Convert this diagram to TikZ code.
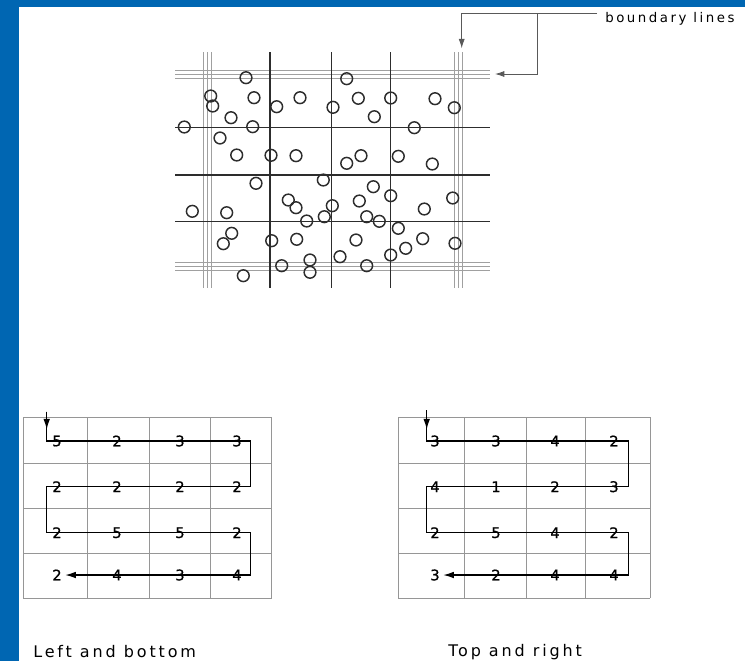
\documentclass[tikz,border=0pt]{standalone}
\usepackage{fontspec}
\setmainfont{DejaVu Sans}
\newfontfamily\spacedfont[LetterSpace=18]{DejaVu Sans}
\newfontfamily\widefont[LetterSpace=19]{DejaVu Sans}
\newfontfamily\digitfont[FakeBold=0.8]{DejaVu Sans}
\usetikzlibrary{arrows.meta, positioning, calc}
\definecolor{frameblue}{RGB}{0,102,178}
\definecolor{inkgray}{RGB}{45,45,45}
\definecolor{gridgray}{RGB}{150,150,150}
\definecolor{edgegray}{RGB}{160,160,160}

\begin{document}
\begin{tikzpicture}[x=0.75pt, y=-0.75pt,
  bline/.style={edgegray, line width=0.55pt},
  gline/.style={inkgray, line width=0.8pt},
  cellline/.style={gridgray, line width=0.6pt},
  particle/.style={inkgray, line width=1.1pt},
  route/.style={black, line width=0.9pt},
  tip/.style={-{Latex[length=8pt,width=5pt]}},
  leader/.style={gray!70!black, line width=0.6pt, -{Latex[length=7pt,width=4.5pt]}},
  count/.style={font=\digitfont\fontsize{11}{11}\selectfont, inner sep=2.5pt},
  caption/.style={font=\spacedfont\fontsize{12}{12}\selectfont, anchor=west, inner sep=0pt}]
  \useasboundingbox (0,0) rectangle (745,661);
  \fill[white] (0,0) rectangle (745,661);
  % frame
  \fill[frameblue] (0,0) rectangle (19,661);
  \fill[frameblue] (0,0) rectangle (745,7);

  % top: cell grid with boundary lines
  \foreach \d in {-4,0,4} {
    \draw[bline] (207+\d,52) -- (207+\d,288);
    \draw[bline] (458.5+\d,52) -- (458.5+\d,288);
    \draw[bline] (175,74+\d) -- (490,74+\d);
    \draw[bline] (175,266.7+\d) -- (490,266.7+\d);
  }
  \foreach \x in {270,331.7,390.7}
    \draw[gline] (\x,52) -- (\x,288);
  \foreach \y in {127.7,175,221.7}
    \draw[gline] (175,\y) -- (490,\y);
  \foreach \x/\y in {246/77.7, 346.7/78.7, 210.7/96, 212.7/106, 254/97.7, 276.7/106.7,
      300/97.7, 333/107.3, 358.3/98.3, 390.7/98, 435/98.7, 454.3/107.7, 231/117.7,
      374.3/116.7, 184.3/127, 252.7/126.7, 414.3/127.7, 220/138, 236.7/155, 271/155.3,
      296/155.7, 346.7/163.3, 361/155.7, 398.3/156.3, 432.3/164, 256/183.3, 323.3/180,
      373.3/186.7, 390.7/195.7, 452.7/198, 288.3/200, 296/207.7, 332.3/205.7, 359.3/201,
      424.3/209, 192.3/211.3, 226.7/212.7, 324.3/216.7, 366.7/216.7, 306.7/221,
      379.3/221.3, 398.3/228.3, 231.7/233.3, 223.3/243.7, 271.7/240.7, 296.7/239.3,
      356/240, 422.7/238.7, 405.7/248.3, 455/243.3, 390.7/255, 340/256.7, 310/260,
      281.7/265.7, 366.7/265.7, 310/272.3, 243.3/275.7}
    \draw[particle] (\x,\y) circle[radius=4.4pt];

  % label for the boundary lines
  \node[caption, font=\widefont\fontsize{10}{10}\selectfont] (blines) at (605,19) {boundary lines};
  \coordinate (lead) at (597,13.3);
  \coordinate (split) at (537,13.3);
  \coordinate (bV) at (461.7,48.3);
  \coordinate (bH) at (495,74);
  \draw[leader] (lead) -| (bV);
  \draw[leader] (split) |- (bH);

  % bottom left: left and bottom
  \foreach \x in {23.3,87,149,210,271.5}
    \draw[cellline] (\x,417) -- (\x,598.3);
  \foreach \y in {417,463.3,508.3,553.3,598.3}
    \draw[cellline] (23.3,\y) -- (271.5,\y);
  \foreach \n/\x/\y/\v in {L11/57/441/5, L12/117/441/2, L13/180/441/3, L14/237/441/3,
      L21/57/486.7/2, L22/117/486.7/2, L23/180/486.7/2, L24/237/486.7/2,
      L31/57/532.7/2, L32/117/532.7/5, L33/180/532.7/5, L34/237/532.7/2,
      L41/57/575/2, L42/117/575/4, L43/180/575/3, L44/237/575/4}
    \node[count] (\n) at (\x,\y) {\v};
  \coordinate (Lin) at (46.7,411.7);
  \coordinate (Ltip) at (46.7,429.5);
  \coordinate (Le) at (250.7,441);
  \draw[route, tip] (Lin) -- (Ltip);
  \draw[route, tip] (Lin) -- (Lin |- L11) -- (Le |- L14) -- (Le |- L24) -- (Lin |- L21)
    -- (Lin |- L31) -- (Le |- L34) -- (Le |- L44) -- (L41.east);
  \node[caption] (leftcap) at (33,651.7) {Left and bottom};

  % bottom right: top and right
  \foreach \x in {398.3,464,526.7,585,650}
    \draw[cellline] (\x,417) -- (\x,598.3);
  \foreach \y in {417,463.3,508.3,553.3,598.3}
    \draw[cellline] (398.3,\y) -- (650,\y);
  \foreach \n/\x/\y/\v in {R11/435/441/3, R12/496/441/3, R13/555/441/4, R14/614/441/2,
      R21/435/486.7/4, R22/496/486.7/1, R23/555/486.7/2, R24/614/486.7/3,
      R31/435/532.7/2, R32/496/532.7/5, R33/555/532.7/4, R34/614/532.7/2,
      R41/435/575/3, R42/496/575/2, R43/555/575/4, R44/614/575/4}
    \node[count] (\n) at (\x,\y) {\v};
  \coordinate (Rin) at (426.7,410);
  \coordinate (Rtip) at (426.7,429.5);
  \coordinate (Re) at (628.5,441);
  \draw[route, tip] (Rin) -- (Rtip);
  \draw[route, tip] (Rin) -- (Rin |- R11) -- (Re |- R14) -- (Re |- R24) -- (Rin |- R21)
    -- (Rin |- R31) -- (Re |- R34) -- (Re |- R44) -- (R41.east);
  \node[caption] (rightcap) at (448,651.7) {Top and right};
\end{tikzpicture}
\end{document}
